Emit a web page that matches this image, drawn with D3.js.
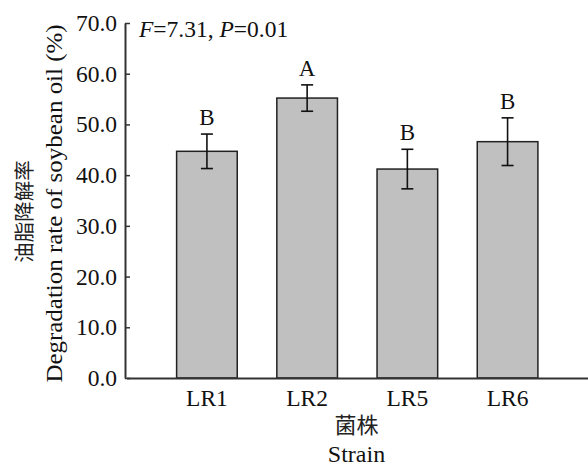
<!DOCTYPE html>
<html>
<head>
<meta charset="utf-8">
<script src="https://cdn.jsdelivr.net/npm/d3@7"></script>
<style>
  body { margin: 0; background: #fff; }
  svg { display: block; font-family: "Liberation Serif", "Times New Roman", serif; }
</style>
</head>
<body>
<div id="chart"></div>
<script>
// data
const strains = ['LR1', 'LR2', 'LR5', 'LR6'];
const means = [44.7, 55.2, 41.2, 46.6];
const errors = [3.4, 2.6, 3.9, 4.7];
const groups = ['B', 'A', 'B', 'B'];
const yTicks = [0, 10, 20, 30, 40, 50, 60, 70];

const width = 588, height = 467;
const margin = { top: 23, right: 0, bottom: 89, left: 125 };

const svg = d3.select('#chart').append('svg')
    .attr('width', width)
    .attr('height', height);

const x = d3.scaleBand()
    .domain(strains)
    .range([margin.left + 1.5, width - margin.right])
    .paddingInner(0.395)
    .paddingOuter(0.5);

const y = d3.scaleLinear()
    .domain([0, 70])
    .range([height - margin.bottom, margin.top]);

const rows = strains.map((s, i) => ({ strain: s, mean: means[i], err: errors[i], group: groups[i] }));

// bars
svg.selectAll('.bar')
    .data(rows)
    .join('rect')
    .attr('class', 'bar')
    .attr('x', d => x(d.strain))
    .attr('y', d => y(d.mean))
    .attr('width', x.bandwidth())
    .attr('height', d => y(0) - y(d.mean))
    .attr('fill', '#c0c0c0')
    .attr('stroke', '#222')
    .attr('stroke-width', 1.5);

// error bars
const capW = 6;
const eb = svg.selectAll('.err')
    .data(rows)
    .join('g')
    .attr('class', 'err')
    .attr('stroke', '#111')
    .attr('stroke-width', 1.6);

eb.append('line')
    .attr('x1', d => x(d.strain) + x.bandwidth() / 2)
    .attr('x2', d => x(d.strain) + x.bandwidth() / 2)
    .attr('y1', d => y(d.mean + d.err))
    .attr('y2', d => y(d.mean - d.err));
eb.append('line')
    .attr('x1', d => x(d.strain) + x.bandwidth() / 2 - capW)
    .attr('x2', d => x(d.strain) + x.bandwidth() / 2 + capW)
    .attr('y1', d => y(d.mean + d.err))
    .attr('y2', d => y(d.mean + d.err));
eb.append('line')
    .attr('x1', d => x(d.strain) + x.bandwidth() / 2 - capW)
    .attr('x2', d => x(d.strain) + x.bandwidth() / 2 + capW)
    .attr('y1', d => y(d.mean - d.err))
    .attr('y2', d => y(d.mean - d.err));

// significance letters
svg.selectAll('.grp')
    .data(rows)
    .join('text')
    .attr('class', 'grp')
    .attr('x', d => x(d.strain) + x.bandwidth() / 2)
    .attr('y', d => y(d.mean + d.err) - 9)
    .attr('text-anchor', 'middle')
    .attr('font-size', '23px')
    .attr('fill', '#111')
    .text(d => d.group);

// axes
const yAxis = svg.append('g')
    .attr('transform', `translate(${margin.left},0)`)
    .call(d3.axisLeft(y).tickValues(yTicks).tickFormat(d3.format('.1f'))
        .tickSizeInner(-5).tickSizeOuter(0).tickPadding(8));

const xAxis = svg.append('g')
    .attr('transform', `translate(0,${y(0)})`)
    .call(d3.axisBottom(x).tickSize(0).tickPadding(8));

[yAxis, xAxis].forEach(g => {
    g.select('.domain').attr('stroke', '#333').attr('stroke-width', 2);
    g.selectAll('.tick line').attr('stroke', '#333').attr('stroke-width', 1.5);
    g.selectAll('.tick text')
        .attr('font-family', '"Liberation Serif", serif')
        .attr('font-size', '23.5px')
        .attr('fill', '#111');
});
xAxis.selectAll('.tick text').attr('dy', '0.85em');

// axis titles
const yMid = (y(0) + y(70)) / 2;
svg.append('text')
    .attr('transform', `translate(32,${yMid + 11}) rotate(-90)`)
    .attr('text-anchor', 'middle')
    .attr('font-family', '"Noto Sans CJK SC", serif')
    .attr('font-size', '20.5px')
    .attr('fill', '#222')
    .text('油脂降解率');
// the English title is a bit taller than wide in the original
svg.append('text')
    .attr('transform', `translate(62,${yMid + 3}) rotate(-90) scale(1.11,1)`)
    .attr('text-anchor', 'middle')
    .attr('font-size', '22.5px')
    .attr('fill', '#111')
    .text('Degradation rate of soybean oil (%)');

const xMid = (margin.left + width - margin.right) / 2;
svg.append('text')
    .attr('x', xMid)
    .attr('y', 433)
    .attr('text-anchor', 'middle')
    .attr('font-family', '"Noto Sans CJK SC", serif')
    .attr('font-size', '22px')
    .attr('fill', '#222')
    .text('菌株');
svg.append('text')
    .attr('x', xMid)
    .attr('y', 462)
    .attr('text-anchor', 'middle')
    .attr('font-size', '24px')
    .attr('fill', '#111')
    .text('Strain');

// statistics note
const note = svg.append('text')
    .attr('x', 139)
    .attr('y', 37)
    .attr('font-size', '23.5px')
    .attr('fill', '#111');
note.append('tspan').attr('font-style', 'italic').text('F');
note.append('tspan').text('=7.31, ');
note.append('tspan').attr('font-style', 'italic').text('P');
note.append('tspan').text('=0.01');
</script>
</body>
</html>
